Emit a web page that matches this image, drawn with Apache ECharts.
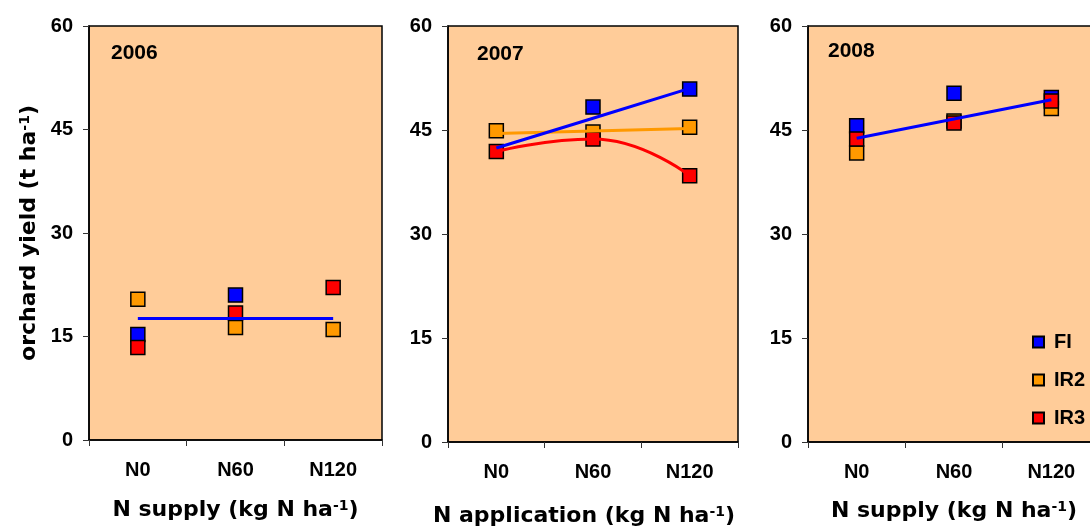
<!DOCTYPE html>
<html>
<head>
<meta charset="utf-8">
<script src="https://cdn.jsdelivr.net/npm/echarts@6/dist/echarts.min.js"></script>
<style>
  html, body { margin: 0; padding: 0; background: #ffffff; }
  #chart { width: 1090px; height: 530px; }
</style>
</head>
<body>
<div id="chart"></div>
<script>
// Orchard yield (t/ha) by N supply, three seasons, three irrigation treatments
const categories = ['N0', 'N60', 'N120'];
const years = ['2006', '2007', '2008'];
const yTicks = { min: 0, max: 60, interval: 15 };

// 2006
const fi2006  = [15.3, 21.0, null];
const ir2_2006 = [20.4, 16.3, 16.0];
const ir3_2006 = [13.4, 18.4, 22.1];
const trendFI2006 = [17.6, 17.6, 17.6];

// 2007
const fi2007  = [null, 48.3, 50.9];
const ir2_2007 = [44.9, 44.7, 45.4];
const ir3_2007 = [41.9, 43.7, 38.4];
const trendFI2007 = [42.4, 46.7, 51.0];
const trendIR2_2007 = [44.5, 44.85, 45.2];

// 2008
const fi2008  = [45.6, 50.3, 49.7];
const ir2_2008 = [41.7, 46.3, 48.1];
const ir3_2008 = [43.7, 46.0, 49.2];
const trendFI2008 = [43.8, 46.6, 49.35];

const xTitles = ['N supply (kg N ha{sup|-1})', 'N application (kg N ha{sup|-1})', 'N supply (kg N ha{sup|-1})'];
const yTitle = 'orchard yield (t ha{sup|-1})';

const COLORS = { FI: '#0000FF', IR2: '#FF9900', IR3: '#FF0000' };
const LABEL_FONT = 'Liberation Sans, Arial, sans-serif';
const TITLE_FONT = 'DejaVu Sans, sans-serif';

const gridBoxes = [
  { left: 89,  top: 26, width: 293, height: 414 },
  { left: 448, top: 26, width: 290, height: 416 },
  { left: 808, top: 26, width: 292, height: 416 }
];
const titleGaps = [59, 63, 58];
const titlePads = [[0, 0, 0, 0], [0, 18, 0, 0], [0, 0, 0, 0]];
const yearPos = [ { left: 111, top: 43 }, { left: 477, top: 44 }, { left: 828, top: 41 } ];

// superscript "-1" in the unit labels
const supRich = {
  sup: { fontSize: 14, fontWeight: 'bold', fontFamily: TITLE_FONT, color: '#000', verticalAlign: 'top', lineHeight: 9 }
};

const chart = echarts.init(document.getElementById('chart'), null, { renderer: 'canvas' });

const grids = gridBoxes.map(b => Object.assign({
  show: true, backgroundColor: '#FFCC99', borderColor: '#000', borderWidth: 1.5,
  containLabel: false, outerBoundsMode: 'none'
}, b));

const xAxes = gridBoxes.map((b, i) => ({
  type: 'category', gridIndex: i, data: categories, boundaryGap: true,
  axisLine: { lineStyle: { color: '#000', width: 1.5 } },
  axisTick: { show: true, length: 6, lineStyle: { color: '#333', width: 1 } },
  axisLabel: { color: '#000', fontSize: 20, fontWeight: 'bold', fontFamily: LABEL_FONT, margin: 20 },
  name: xTitles[i], nameLocation: 'middle', nameGap: titleGaps[i],
  nameTextStyle: {
    color: '#000', fontSize: 22, fontWeight: 'bold', fontFamily: TITLE_FONT,
    lineHeight: 22, padding: titlePads[i], rich: supRich
  },
  splitLine: { show: false }
}));

const yAxes = gridBoxes.map((b, i) => ({
  type: 'value', gridIndex: i, min: yTicks.min, max: yTicks.max, interval: yTicks.interval,
  axisLine: { show: true, lineStyle: { color: '#000', width: 1.5 } },
  axisTick: { show: true, length: 6, lineStyle: { color: '#333', width: 1 } },
  axisLabel: { color: '#000', fontSize: 20, fontWeight: 'bold', fontFamily: LABEL_FONT, margin: 16 },
  splitLine: { show: false },
  name: i === 0 ? yTitle : '', nameLocation: 'middle', nameGap: 49, nameRotate: 90,
  nameTextStyle: {
    color: '#000', fontSize: 22, fontWeight: 'bold', fontFamily: TITLE_FONT,
    lineHeight: 22, rich: supRich
  }
}));

function markers(name, data, idx) {
  return {
    name: name, type: 'scatter', xAxisIndex: idx, yAxisIndex: idx, data: data,
    symbol: 'rect', symbolSize: 14, z: 2,
    itemStyle: { color: COLORS[name], borderColor: '#000', borderWidth: 1.5, opacity: 1 },
    emphasis: { disabled: true }
  };
}
function trend(name, data, idx, color, smooth) {
  return {
    name: name, type: 'line', xAxisIndex: idx, yAxisIndex: idx, data: data,
    showSymbol: false, symbol: 'none', smooth: smooth || false, z: 3,
    lineStyle: { color: color, width: 3 },
    emphasis: { disabled: true }
  };
}

const series = [
  markers('FI', fi2006, 0), markers('IR2', ir2_2006, 0), markers('IR3', ir3_2006, 0),
  trend('FI trend 2006', trendFI2006, 0, COLORS.FI),

  markers('FI', fi2007, 1), markers('IR2', ir2_2007, 1), markers('IR3', ir3_2007, 1),
  trend('IR2 trend 2007', trendIR2_2007, 1, COLORS.IR2),
  trend('IR3 curve 2007', ir3_2007, 1, COLORS.IR3, 0.5),
  trend('FI trend 2007', trendFI2007, 1, COLORS.FI),

  markers('FI', fi2008, 2), markers('IR2', ir2_2008, 2), markers('IR3', ir3_2008, 2),
  trend('FI trend 2008', trendFI2008, 2, COLORS.FI)
];

const titles = years.map((y, i) => ({
  text: y, left: yearPos[i].left, top: yearPos[i].top, padding: 0,
  textStyle: { color: '#000', fontSize: 21, fontWeight: 'bold', fontFamily: LABEL_FONT }
}));

chart.setOption({
  animation: false,
  backgroundColor: '#ffffff',
  title: titles,
  grid: grids,
  xAxis: xAxes,
  yAxis: yAxes,
  legend: {
    data: ['FI', 'IR2', 'IR3'], orient: 'vertical', left: 1032, top: 332,
    itemWidth: 11, itemHeight: 11, itemGap: 18, icon: 'rect', padding: 0,
    selectedMode: false,
    textStyle: { color: '#000', fontSize: 20, fontWeight: 'bold', fontFamily: LABEL_FONT, lineHeight: 20, padding: [0, 0, 0, 5] }
  },
  series: series
});
</script>
</body>
</html>
